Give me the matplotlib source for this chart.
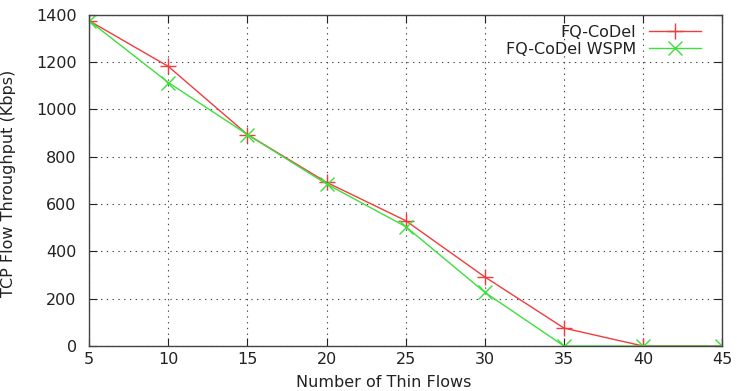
import matplotlib
matplotlib.use("Agg")
import matplotlib.pyplot as plt

# Data
flows = [5, 10, 15, 20, 25, 30, 35, 40, 45]
fq_codel = [1375, 1182, 894, 692, 530, 292, 76, 0, 0]
fq_codel_wspm = [1375, 1114, 894, 685, 505, 227, 0, 0, 0]

x_ticks = [5, 10, 15, 20, 25, 30, 35, 40, 45]
y_ticks = [0, 200, 400, 600, 800, 1000, 1200, 1400]

plt.rcParams['font.family'] = ['DejaVu Sans']

fig = plt.figure(figsize=(7.37, 3.91), dpi=100)
ax = fig.add_axes([0.121, 0.115, 0.859, 0.847])

ax.plot(flows, fq_codel, color='#f03c3c', lw=1.0, marker='+', ms=12, mew=1.0,
        label='FQ-CoDel')
ax.plot(flows, fq_codel_wspm, color='#3ce03c', lw=1.0, marker='x', ms=10, mew=1.0,
        label='FQ-CoDel WSPM')

ax.set_xlim(5, 45)
ax.set_ylim(0, 1400)
ax.set_xticks(x_ticks)
ax.set_yticks(y_ticks)
ax.tick_params(direction='in', length=6, width=0.8, top=True, right=True,
               labelsize=11.5, colors='#222222')
ax.tick_params(axis='x', pad=4)
ax.tick_params(axis='y', pad=9)
ax.grid(True, color='#444444', linestyle=(0, (1.2, 4)), linewidth=0.8)
for s in ax.spines.values():
    s.set_color('#444444')
    s.set_linewidth(1.0)

leg = ax.legend(loc='upper right', bbox_to_anchor=(0.977, 0.99), frameon=False,
                markerfirst=False, fontsize=11.5, handlelength=3.3,
                borderaxespad=0.0, labelspacing=0.15, handletextpad=0.8)
for t in leg.get_texts():
    t.set_ha('right')
    t.set_color('#222222')

fig.text(0.011, 0.53, 'TCP Flow Throughput (Kbps)', rotation=90, ha='center',
         va='center', fontsize=11.5, color='#222222')
fig.text(0.52, 0.022, 'Number of Thin Flows', ha='center', va='center',
         fontsize=11.5, color='#222222')

fig.savefig('out.png', dpi=100)
